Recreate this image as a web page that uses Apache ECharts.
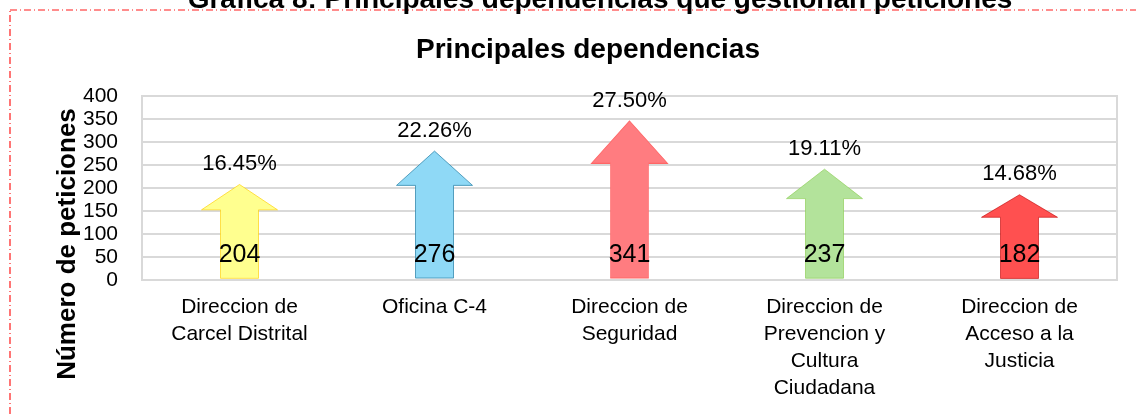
<!DOCTYPE html>
<html>
<head>
<meta charset="utf-8">
<script src="https://cdn.jsdelivr.net/npm/echarts@6/dist/echarts.min.js"></script>
<style>
  html, body { margin: 0; padding: 0; background: #fff; }
  #chart { width: 1136px; height: 414px; }
</style>
</head>
<body>
<div id="chart"></div>
<script>
// datos
const categories = [
  "Direccion de\nCarcel Distrital",
  "Oficina C-4",
  "Direccion de\nSeguridad",
  "Direccion de\nPrevencion y\nCultura\nCiudadana",
  "Direccion de\nAcceso a la\nJusticia"
];
const peticiones = [204, 276, 341, 237, 182];
const porcentajes = ["16.45%", "22.26%", "27.50%", "19.11%", "14.68%"];
const yTicks = [0, 50, 100, 150, 200, 250, 300, 350, 400];

const fillColors = ["#FFFF8F", "#8FD9F6", "#FF7C80", "#B3E39B", "#FF5050"];
const borderColors = ["#FFCC00", "#2E86AB", "#FF6666", "#8FCF5A", "#C00000"];

// flecha hacia arriba (se estira al alto de la barra)
const arrowPath = "path://M38,0 L76,27 L57,27 L57,100 L19,100 L19,27 L0,27 Z";

const chart = echarts.init(document.getElementById("chart"));

const option = {
  animation: false,
  textStyle: { fontFamily: "Liberation Sans, Arial, sans-serif" },
  title: {
    text: "Principales dependencias",
    left: 583,
    textAlign: "center",
    top: 31,
    textStyle: { fontSize: 28, fontWeight: "bold", color: "#000" }
  },
  graphic: [
    {
      type: "rect",
      shape: { x: 10, y: 10, width: 1140, height: 420 },
      style: { fill: "none", stroke: "#FF1A1A", lineWidth: 1.2, lineDash: [7, 3, 1, 3] },
      z: 0
    },
    {
      type: "text",
      x: 600,
      y: 0,
      style: {
        text: "Gráfica 8: Principales dependencias que gestionan peticiones",
        fontSize: 28,
        fontWeight: "bold",
        fill: "#000",
        align: "center",
        verticalAlign: "middle",
        fontFamily: "Liberation Sans, Arial, sans-serif"
      },
      z: 10
    },
    {
      type: "text",
      x: 68,
      y: 244,
      rotation: Math.PI / 2,
      style: {
        text: "Número de peticiones",
        fontSize: 26,
        fontWeight: "bold",
        fill: "#000",
        align: "center",
        verticalAlign: "middle",
        fontFamily: "Liberation Sans, Arial, sans-serif"
      }
    }
  ],
  grid: {
    left: 142,
    right: 19,
    top: 96,
    height: 184,
    show: true,
    borderColor: "#D9D9D9",
    borderWidth: 2
  },
  xAxis: {
    type: "category",
    data: categories,
    axisTick: { show: false },
    axisLine: { lineStyle: { color: "#D9D9D9", width: 2 } },
    axisLabel: {
      color: "#000",
      fontSize: 21,
      lineHeight: 27,
      margin: 14,
      interval: 0,
      verticalAlign: "top"
    }
  },
  yAxis: {
    type: "value",
    min: 0,
    max: 400,
    interval: yTicks[1] - yTicks[0],
    axisLine: { show: false },
    axisTick: { show: false },
    splitLine: { lineStyle: { color: "#D9D9D9", width: 2 } },
    axisLabel: { color: "#000", fontSize: 21, margin: 24 }
  },
  series: [
    {
      type: "pictorialBar",
      symbol: arrowPath,
      symbolSize: [76, "100%"],
      barCategoryGap: "0%",
      barGap: "-100%",
      data: peticiones.map((v, i) => ({
        value: v,
        itemStyle: { color: fillColors[i], borderColor: borderColors[i], borderWidth: 3 }
      })),
      label: {
        show: true,
        position: "insideBottom",
        distance: 12,
        color: "#000",
        fontSize: 25
      },
      z: 3
    },
    {
      type: "pictorialBar",
      symbol: "rect",
      symbolSize: [76, "100%"],
      barGap: "-100%",
      itemStyle: { color: "rgba(0,0,0,0)" },
      data: peticiones,
      label: {
        show: true,
        position: "top",
        distance: 11,
        color: "#000",
        fontSize: 22,
        formatter: p => porcentajes[p.dataIndex]
      },
      silent: true,
      z: 4
    }
  ]
};

chart.setOption(option);
</script>
</body>
</html>
